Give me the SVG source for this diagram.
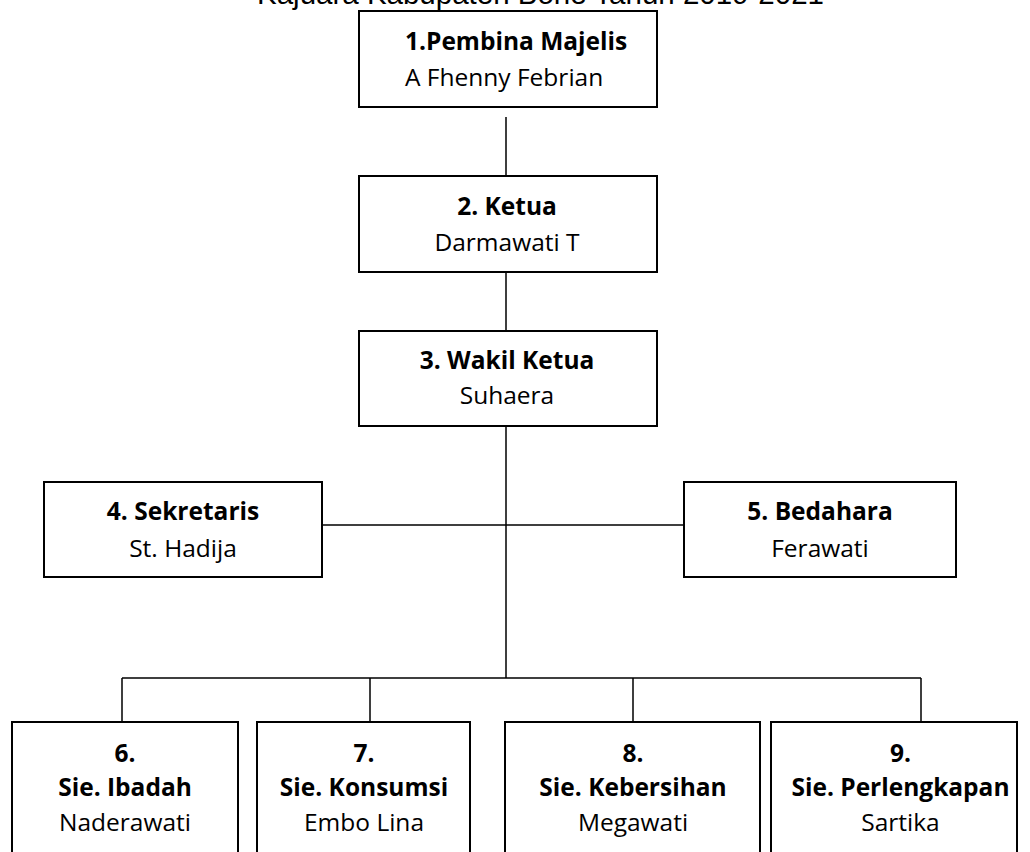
<svg xmlns="http://www.w3.org/2000/svg" width="1030" height="852" viewBox="0 0 1030 852">
<style>
.box{fill:#fff;stroke:#000;stroke-width:2}
.t{font-family:"Open Sans","Noto Sans",sans-serif;font-size:24.5px;fill:#000;text-anchor:middle}
.b{font-weight:bold}
.title{font-family:"Liberation Sans",Arial,sans-serif;font-size:29.5px;fill:#000;text-anchor:middle}
.c{fill:none;stroke:#000;stroke-width:1.5}
</style>
<rect width="1030" height="852" fill="#fff"/>
<text class="title" x="540.5" y="4">Kajuara Kabupaten Bone Tahun 2019-2021</text>
<g id="connectors">
<path class="c" d="M506 117V176M506 272V331M506 426V678M322 525H684M122 678H921M122 678V722M370 678V722M633 678V722M921 678V722"/>
</g>
<g id="n1">
<rect class="box" x="359" y="11" width="298" height="96"/>
<text class="t b" x="405" y="50" style="text-anchor:start">1.Pembina Majelis</text>
<text class="t" x="405" y="86" style="text-anchor:start">A Fhenny Febrian</text>
</g>
<g id="n2">
<rect class="box" x="359" y="176" width="298" height="96"/>
<text class="t b" x="507" y="215">2. Ketua</text>
<text class="t" x="507" y="251">Darmawati T</text>
</g>
<g id="n3">
<rect class="box" x="359" y="331" width="298" height="95"/>
<text class="t b" x="507" y="369">3. Wakil Ketua</text>
<text class="t" x="507" y="404">Suhaera</text>
</g>
<g id="n4">
<rect class="box" x="44" y="482" width="278" height="95"/>
<text class="t b" x="183" y="520">4. Sekretaris</text>
<text class="t" x="183" y="556.5">St. Hadija</text>
</g>
<g id="n5">
<rect class="box" x="684" y="482" width="272" height="95"/>
<text class="t b" x="820" y="520">5. Bedahara</text>
<text class="t" x="820" y="556.5">Ferawati</text>
</g>
<g id="n6">
<rect class="box" x="12" y="722" width="226" height="140"/>
<text class="t b" x="125" y="761.5">6.</text>
<text class="t b" x="125" y="796">Sie. Ibadah</text>
<text class="t" x="125" y="831">Naderawati</text>
</g>
<g id="n7">
<rect class="box" x="257" y="722" width="213" height="140"/>
<text class="t b" x="364" y="761.5">7.</text>
<text class="t b" x="364" y="796">Sie. Konsumsi</text>
<text class="t" x="364" y="831">Embo Lina</text>
</g>
<g id="n8">
<rect class="box" x="505" y="722" width="255" height="140"/>
<text class="t b" x="633" y="761.5">8.</text>
<text class="t b" x="633" y="796">Sie. Kebersihan</text>
<text class="t" x="633" y="831">Megawati</text>
</g>
<g id="n9">
<rect class="box" x="771" y="722" width="246" height="140"/>
<text class="t b" x="900.5" y="761.5">9.</text>
<text class="t b" x="900.5" y="796">Sie. Perlengkapan</text>
<text class="t" x="900.5" y="831">Sartika</text>
</g>
</svg>
